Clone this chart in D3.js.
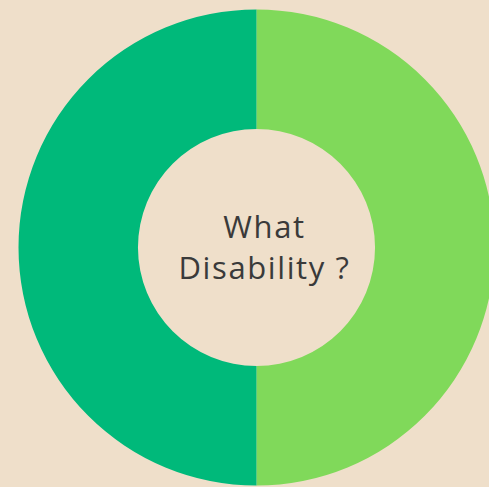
<html>
<script src="https://d3js.org/d3.v7.min.js"></script>
<body>
<div id="chart"></div>
<script>
var categories = ["Yes", "No"];
var values = [50, 50];
var colors = ["#80d95a", "#00b97a"];
var titleLines = ["What", "Disability ?"];

var width = 489;
var height = 487;
var cx = 256.5, cy = 247.5;
var outerR = 238, innerR = 118.5;

var svg = d3.select("#chart").append("svg")
  .attr("width", width)
  .attr("height", height);

svg.append("rect")
  .attr("width", width)
  .attr("height", height)
  .attr("fill", "#efdfca");

var g = svg.append("g")
  .attr("transform", `translate(${cx}, ${cy})`);

var pie = d3.pie().sort(null);
var arc = d3.arc().innerRadius(innerR).outerRadius(outerR);
var color = d3.scaleOrdinal().domain(categories).range(colors);

g.selectAll("path")
  .data(pie(values)).enter()
  .append("path")
  .attr("d", arc)
  .attr("fill", (d, i) => color(categories[i]));

/* centre label */
g.selectAll(".title-text")
  .data(titleLines).enter()
  .append("text")
  .attr("class", "title-text")
  .attr("text-anchor", "middle")
  .attr("x", 8)
  .attr("y", (d, i) => -10 + i * 41)
  .text(d => d);
</script>
<style>
  body { margin: 0; background: #efdfca; }
  .title-text {
    font-family: "Open Sans", sans-serif;
    font-size: 31px;
    letter-spacing: 1.6px;
    fill: #3a3a3a;
  }
</style>
</body>
</html>
